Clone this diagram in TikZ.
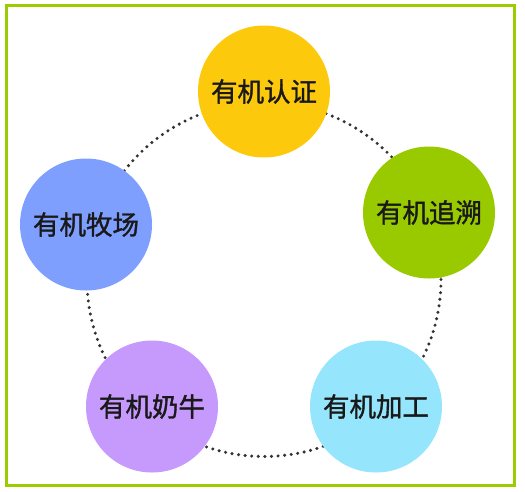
\documentclass[tikz,border=0pt]{standalone}
\usepackage{fontspec}
\newfontfamily\cjk[FakeBold=1.3]{Noto Sans CJK SC}
\definecolor{frameg}{HTML}{9ACC00}
\definecolor{cyel}{HTML}{FDC90C}
\definecolor{cgrn}{HTML}{99CA00}
\definecolor{ccya}{HTML}{95E6FC}
\definecolor{cpur}{HTML}{C699FC}
\definecolor{cblu}{HTML}{7F9FFF}
\definecolor{dotc}{HTML}{333333}
\begin{document}
\begin{tikzpicture}[x=1pt,y=-1pt,
  bubble/.style={circle,minimum size=132pt,inner sep=0pt,font=\cjk\fontsize{26.5}{26.5}\selectfont,text=black!90}]
\useasboundingbox (0,0) rectangle (525,491);
\draw[frameg,line width=3pt] (6.5,5) rectangle (514.5,485);
\draw[dotc,line width=3.4pt,line cap=round,dash pattern=on 0pt off 6.6pt] (264,279.5) circle[radius=177];
\node[bubble,fill=cyel] (a) at (264,91.5) {有机认证};
\node[bubble,fill=cgrn] (b) at (429,212.5) {有机追溯};
\node[bubble,fill=ccya] (c) at (376,406.5) {有机加工};
\node[bubble,fill=cpur] (d) at (152,406.5) {有机奶牛};
\node[bubble,fill=cblu] (e) at (86,224.5) {有机牧场};
\end{tikzpicture}
\end{document}
